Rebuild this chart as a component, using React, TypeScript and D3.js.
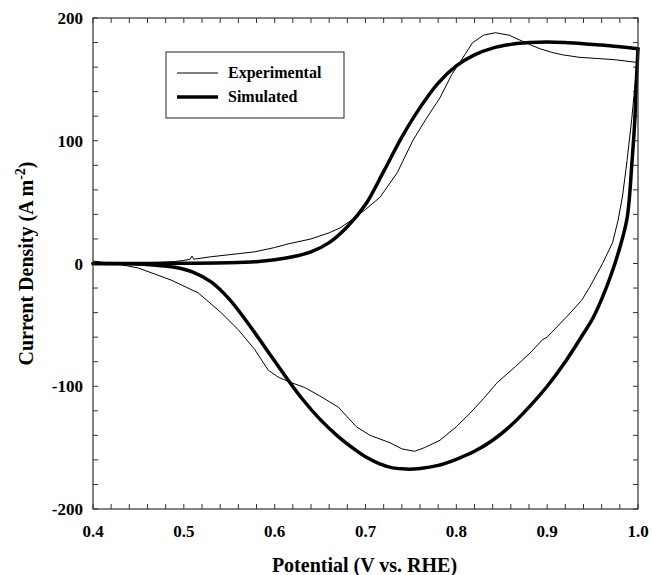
import React from "react";
import * as d3 from "d3";

const expUpperE = [0.400, 0.410, 0.430, 0.450, 0.470, 0.490, 0.500, 0.507, 0.509, 0.511, 0.530, 0.560, 0.578, 0.600, 0.615, 0.640, 0.660, 0.672, 0.688, 0.700, 0.716, 0.735, 0.752, 0.766, 0.782, 0.795, 0.804, 0.818, 0.830, 0.843, 0.858, 0.870, 0.882, 0.892, 0.905, 0.917, 0.935, 0.955, 0.975, 0.997];
const expUpperJ = [2, 1, 0, 0, 0.8, 1.6, 2.5, 3.5, 6, 3.5, 5.5, 8, 9.5, 13, 16, 20, 25, 29, 37, 44, 54, 74, 100, 117, 135, 154, 164, 180, 186, 188, 186, 182, 178, 175, 172, 170, 168, 167, 166, 164];

const expLowerE = [0.999, 0.996, 0.993, 0.988, 0.983, 0.978, 0.972, 0.961, 0.947, 0.938, 0.922, 0.905, 0.900, 0.895, 0.881, 0.865, 0.845, 0.830, 0.815, 0.800, 0.782, 0.765, 0.754, 0.740, 0.727, 0.705, 0.690, 0.670, 0.650, 0.633, 0.618, 0.605, 0.593, 0.578, 0.560, 0.541, 0.516, 0.486, 0.450, 0.431, 0.402];
const expLowerJ = [164, 140, 117, 84, 55, 35, 17, 0, -19, -30, -43, -56, -60, -62, -73, -84, -97, -110, -122, -133, -144, -150, -153, -151, -146, -140, -133, -117, -108, -101, -97, -93, -87, -70, -54, -40, -24, -13.5, -3.7, -1, 1];

const simUpperE = [0.40, 0.45, 0.50, 0.55, 0.58, 0.60, 0.62, 0.64, 0.66, 0.68, 0.70, 0.72, 0.74, 0.76, 0.78, 0.80, 0.82, 0.84, 0.86, 0.88, 0.90, 0.92, 0.94, 0.96, 0.98, 1.00];
const simUpperJ = [0, 0, 0.2, 0.6, 1.5, 3, 5.5, 9.5, 17, 30, 48, 75, 103, 127, 147, 161, 170, 175.5, 178.5, 180, 180.5, 180, 179, 178, 176.5, 175];

const simLowerE = [1.000, 0.998, 0.9965, 0.9935, 0.988, 0.980, 0.970, 0.960, 0.950, 0.940, 0.920, 0.900, 0.880, 0.860, 0.840, 0.820, 0.800, 0.780, 0.760, 0.745, 0.730, 0.715, 0.700, 0.690, 0.670, 0.650, 0.630, 0.610, 0.590, 0.570, 0.550, 0.530, 0.510, 0.490, 0.470, 0.440, 0.400];
const simLowerJ = [175, 145, 117, 84, 37, 13, -10, -29, -45, -57, -80, -100, -117, -132, -144, -153, -159.5, -164.5, -167, -167.5, -166.5, -163, -157.5, -152.5, -141, -127, -110, -90, -69, -48, -29, -15, -7, -3, -1.5, -0.3, 0];

const xTicks = [0.4, 0.5, 0.6, 0.7, 0.8, 0.9, 1.0];
const yTicks = [-200, -100, 0, 100, 200];
const legendLabels = ["Experimental", "Simulated"];

const W = 653, H = 575;
const L = 93, R = 638, T = 18, B = 509;
const FONT = "'Liberation Serif', 'Times New Roman', serif";

type P = [number, number];

export default function App() {
  const x = d3.scaleLinear().domain([0.4, 1.0]).range([L, R]);
  const y = d3.scaleLinear().domain([-200, 200]).range([B, T]);
  const line = d3.line<P>().x(d => x(d[0])).y(d => y(d[1]));
  const smooth = d3.line<P>().x(d => x(d[0])).y(d => y(d[1])).curve(d3.curveCatmullRom.alpha(0.5));

  const exp: P[] = [
    ...expUpperE.map((e, i) => [e, expUpperJ[i]] as P),
    ...expLowerE.map((e, i) => [e, expLowerJ[i]] as P),
  ];
  const simUp: P[] = simUpperE.map((e, i) => [e, simUpperJ[i]] as P);
  const simLo: P[] = simLowerE.map((e, i) => [e, simLowerJ[i]] as P);

  const xMinor = d3.range(0, 31).map(i => 0.4 + i * 0.02);
  const yMinor = d3.range(0, 21).map(i => -200 + i * 20);
  const tl = 5;

  return (
    <svg width={W} height={H} style={{ position: "absolute", left: 0, top: 0, background: "#fff" }} fontFamily={FONT}>
      <rect x={0} y={0} width={W} height={H} fill="#fff" />
      <g stroke="#333" strokeWidth={1}>
        {xMinor.map((v, i) => (
          <g key={"xt" + i}>
            <line x1={x(v)} x2={x(v)} y1={B} y2={B - tl} />
            <line x1={x(v)} x2={x(v)} y1={T} y2={T + tl} />
          </g>
        ))}
        {yMinor.map((v, i) => (
          <g key={"yt" + i}>
            <line x1={L} x2={L + tl} y1={y(v)} y2={y(v)} />
            <line x1={R} x2={R - tl} y1={y(v)} y2={y(v)} />
          </g>
        ))}
      </g>
      <path d={line(exp) || ""} fill="none" stroke="#000" strokeWidth={1} strokeLinejoin="round" />
      <path d={smooth(simUp) || ""} fill="none" stroke="#000" strokeWidth={3.5} strokeLinecap="round" />
      <path d={smooth(simLo) || ""} fill="none" stroke="#000" strokeWidth={3.5} strokeLinecap="round" />
      <rect x={L} y={T} width={R - L} height={B - T} fill="none" stroke="#333" strokeWidth={1.2} />
      <g fontWeight="bold" fontSize={17} fill="#000">
        {xTicks.map(v => (
          <text key={"xl" + v} x={x(v)} y={537} textAnchor="middle">{v.toFixed(1)}</text>
        ))}
        {yTicks.map(v => (
          <text key={"yl" + v} x={83} y={y(v) + 6} textAnchor="end">{v}</text>
        ))}
      </g>
      <text x={(L + R) / 2 - 1} y={572} textAnchor="middle" fontWeight="bold" fontSize={20}>Potential (V vs. RHE)</text>
      <text transform={`translate(33, ${(T + B) / 2}) rotate(-90)`} textAnchor="middle" fontWeight="bold" fontSize={20}>
        Current Density (A m<tspan dy={-8} fontSize={14}>-2</tspan><tspan dy={8}>)</tspan>
      </text>
      <rect x={166} y={52} width={178} height={66} fill="#fff" stroke="#222" strokeWidth={1} />
      <line x1={177} x2={218} y1={73} y2={73} stroke="#000" strokeWidth={1} />
      <line x1={177} x2={218} y1={97} y2={97} stroke="#000" strokeWidth={3.5} />
      <g fontWeight="bold" fontSize={16}>
        <text x={228} y={78}>{legendLabels[0]}</text>
        <text x={228} y={102}>{legendLabels[1]}</text>
      </g>
    </svg>
  );
}
